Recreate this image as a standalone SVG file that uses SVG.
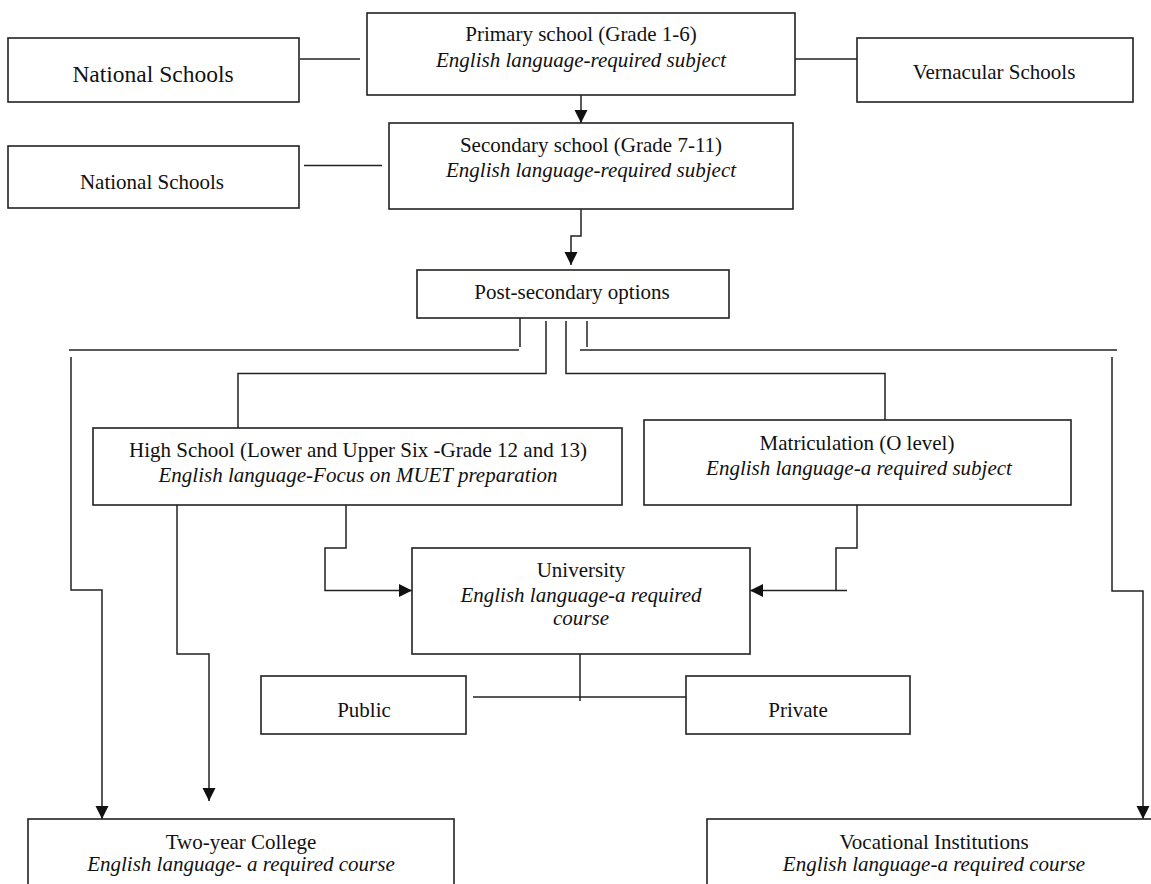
<svg xmlns="http://www.w3.org/2000/svg" width="1151" height="884" viewBox="0 0 1151 884">
<style>
  .box { fill: #fff; stroke: #222; stroke-width: 1.6; }
  .t { font-family: "Liberation Serif", "Times New Roman", serif; font-size: 21px; fill: #111; text-anchor: middle; }
  .i { font-style: italic; }
  .c { fill: none; stroke: #222; stroke-width: 1.5; }
  .a { marker-end: url(#arr); }
</style>
<defs>
  <marker id="arr" markerUnits="userSpaceOnUse" markerWidth="14" markerHeight="14" viewBox="0 0 14 14" refX="13" refY="7" orient="auto">
    <path d="M0,0.5 L13,7 L0,13.5 Z" fill="#111"/>
  </marker>
</defs>
<rect width="1151" height="884" fill="#fff"/>

<g id="connectors">
  <line class="c" x1="300" y1="59" x2="360" y2="59"/>
  <line class="c" x1="794" y1="59" x2="857" y2="59"/>
  <line class="c" x1="304" y1="165.5" x2="382" y2="165.5"/>
  <line class="c a" x1="581" y1="80" x2="581" y2="123"/>
  <polyline class="c a" points="581,209 581,236 571,236 571,265"/>
  <line class="c" x1="520" y1="318" x2="520" y2="347"/>
  <line class="c" x1="69" y1="350" x2="519" y2="350"/>
  <polyline class="c a" points="71,357 71,590 102,590 102,819"/>
  <polyline class="c" points="546,321 546,373.5 238,373.5 238,428"/>
  <polyline class="c" points="566,321 566,373.5 885,373.5 885,420"/>
  <line class="c" x1="587" y1="321" x2="587" y2="347"/>
  <line class="c" x1="580" y1="350" x2="1117" y2="350"/>
  <polyline class="c a" points="1112,357 1112,591 1143,591 1143,819"/>
  <polyline class="c a" points="346,505 346,548 325,548 325,590.5 412,590.5"/>
  <polyline class="c" points="857,505 857,548 836,548 836,590.5"/>
  <line class="c a" x1="847" y1="590.5" x2="750" y2="590.5"/>
  <polyline class="c a" points="177,505 177,654 209,654 209,801"/>
  <line class="c" x1="580" y1="654" x2="580" y2="701"/>
  <line class="c" x1="473" y1="697" x2="686" y2="697"/>
</g>

<g id="national1">
  <rect class="box" x="8" y="38" width="291" height="64"/>
  <text class="t" x="153" y="81.5" style="font-size:23.5px">National Schools</text>
</g>
<g id="primary">
  <rect class="box" x="367" y="13" width="428" height="82"/>
  <text class="t" x="581" y="41">Primary school (Grade 1-6)</text>
  <text class="t i" x="581" y="67">English language-required subject</text>
</g>
<g id="vernacular">
  <rect class="box" x="857" y="38" width="276" height="64"/>
  <text class="t" x="994" y="79">Vernacular Schools</text>
</g>
<g id="national2">
  <rect class="box" x="8" y="146" width="291" height="62"/>
  <text class="t" x="152" y="188.5">National Schools</text>
</g>
<g id="secondary">
  <rect class="box" x="389" y="123" width="404" height="86"/>
  <text class="t" x="591" y="151.5">Secondary school (Grade 7-11)</text>
  <text class="t i" x="591" y="176.5">English language-required subject</text>
</g>
<g id="postsecondary">
  <rect class="box" x="417" y="270" width="312" height="48"/>
  <text class="t" x="572" y="299">Post-secondary options</text>
</g>
<g id="highschool">
  <rect class="box" x="93" y="428" width="529" height="77"/>
  <text class="t" x="358" y="457">High School (Lower and Upper Six -Grade 12 and 13)</text>
  <text class="t i" x="358" y="482">English language-Focus on MUET preparation</text>
</g>
<g id="matriculation">
  <rect class="box" x="644" y="420" width="427" height="85"/>
  <text class="t" x="857" y="450">Matriculation  (O level)</text>
  <text class="t i" x="859" y="475">English language-a required subject</text>
</g>
<g id="university">
  <rect class="box" x="412" y="548" width="338" height="106"/>
  <text class="t" x="581" y="577">University</text>
  <text class="t i" x="581" y="602">English language-a required</text>
  <text class="t i" x="581" y="625">course</text>
</g>
<g id="public">
  <rect class="box" x="261" y="676" width="205" height="58"/>
  <text class="t" x="364" y="716.5">Public</text>
</g>
<g id="private">
  <rect class="box" x="686" y="676" width="224" height="58"/>
  <text class="t" x="798" y="716.5">Private</text>
</g>
<g id="twoyear">
  <rect class="box" x="28" y="819" width="426" height="90"/>
  <text class="t" x="241" y="848.5">Two-year College</text>
  <text class="t i" x="241" y="871">English language- a required course</text>
</g>
<g id="vocational">
  <rect class="box" x="707" y="819" width="454" height="90"/>
  <text class="t" x="934" y="848.5">Vocational Institutions</text>
  <text class="t i" x="934" y="871">English language-a required course</text>
</g>
</svg>
